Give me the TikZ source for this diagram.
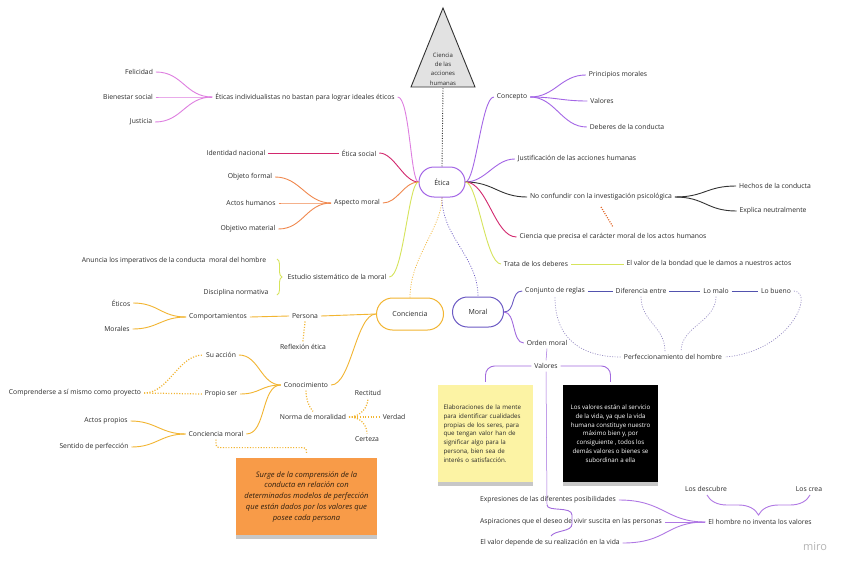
\documentclass[tikz,border=0pt]{standalone}
\usepackage{fontspec}
\setmainfont{Open Sans}
\usetikzlibrary{shadows,calc,decorations.pathreplacing}
\definecolor{txtc}{HTML}{2A2A2A}
\definecolor{pinkc}{HTML}{DE7EE0}
\definecolor{crim}{HTML}{D2286E}
\definecolor{orng}{HTML}{F0884E}
\definecolor{ygrn}{HTML}{D6E45C}
\definecolor{purp}{HTML}{A466E6}
\definecolor{dgray}{HTML}{333333}
\definecolor{concc}{HTML}{F2B531}
\definecolor{moralc}{HTML}{6C5AC4}
\definecolor{indig}{HTML}{5252AE}
\definecolor{vio}{HTML}{A26BDE}
\definecolor{botv}{HTML}{B078E4}
\definecolor{perfc}{HTML}{9A90C6}
\definecolor{ystk}{HTML}{FCF3A4}
\definecolor{ostk}{HTML}{F89B48}
\definecolor{tricol}{HTML}{E2E2E2}
\definecolor{dotred}{HTML}{E0601E}
\definecolor{mirocol}{HTML}{B4B4B4}
\begin{document}
\begin{tikzpicture}[x=1pt,y=-1pt,
  tx/.style={font=\fontsize{6.8}{8}\selectfont,text=txtc,inner sep=1pt,outer sep=2pt},
  ln/.style={line width=0.9pt},
  dl/.style={line width=1.2pt,dash pattern=on 1.1pt off 1.6pt},
  fl/.style={line width=0.7pt,dash pattern=on 1pt off 1.5pt},
  pill/.style={draw,line width=1pt,fill=white,font=\fontsize{7}{8}\selectfont,text=txtc},
  stk/.style={minimum width=95pt,minimum height=97pt,inner sep=0pt,
    drop shadow={shadow xshift=0pt,shadow yshift=-4pt,opacity=0.22,fill=black}}]
\useasboundingbox (0,0) rectangle (848,570);
\fill[white] (0,0) rectangle (848,570);

% ---------- triangle ----------
\filldraw[fill=tricol,draw=dgray,line width=0.9pt] (443,8) -- (475,87) -- (411,87) -- cycle;
\node[font=\fontsize{6}{9.4}\selectfont,align=center,text=txtc] (tri) at (443,69) {Ciencia\\de las\\acciones\\humanas};
\coordinate (tribase) at (443,88);

% ---------- main pills ----------
\node[pill,draw=purp,minimum width=46pt,minimum height=30pt,rounded corners=15pt] (etica) at (442,182) {Ética};
\node[pill,draw=concc,minimum width=67pt,minimum height=32pt,rounded corners=16pt] (conc) at (410,314) {Conciencia};
\node[pill,draw=moralc,minimum width=51pt,minimum height=30pt,rounded corners=15pt] (moral) at (478,312) {Moral};

\draw[dgray,line width=0.9pt,dash pattern=on 1pt off 1.5pt] (tribase) -- (etica.north);
\draw[concc,fl] (etica.south) .. controls +(0,30) and +(0,-40) .. (conc.north);
\draw[moralc,fl] (etica.south) .. controls +(0,40) and +(0,-40) .. (moral.north);

% ---------- left of Etica ----------
\node[tx] (eticind) at (305,97) {Éticas individualistas no bastan para lograr ideales éticos};
\node[tx] (fel) at (139,72) {Felicidad};
\node[tx] (bien) at (128,97) {Bienestar social};
\node[tx] (just) at (141,122) {Justicia};
\foreach \n in {fel,bien,just}
  \draw[pinkc,ln] (\n.east) .. controls +(27,0) and +(-27,0) .. (eticind.west);
\draw[pinkc,ln] (eticind.east) .. controls +(12,0) and +(-8,0) .. (etica.west);

\node[tx] (esoc) at (359,153) {Ética social};
\node[tx] (idn) at (236,153) {Identidad nacional};
\draw[crim,ln] (idn.east) -- (esoc.west);
\draw[crim,ln] (esoc.east) .. controls +(15,0) and +(-15,0) .. (etica.west);

\node[tx] (asp) at (357,203) {Aspecto moral};
\node[tx] (obf) at (250,177) {Objeto formal};
\node[tx] (ach) at (251,203) {Actos humanos};
\node[tx] (obm) at (248,229) {Objetivo material};
\foreach \n in {obf,ach,obm}
  \draw[orng,ln] (\n.east) .. controls +(25,0) and +(-25,0) .. (asp.west);
\draw[orng,ln] (asp.east) .. controls +(15,0) and +(-15,0) .. (etica.west);

\node[tx] (est) at (337,277) {Estudio sistemático de la moral};
\node[tx] (anun) at (174,261) {Anuncia los imperativos de la conducta \ moral del hombre};
\node[tx] (disc) at (236,293) {Disciplina normativa};
\coordinate (bra) at (277,259);
\coordinate (brb) at (277,295);
\draw[ygrn,ln,decorate,decoration={brace,amplitude=5pt}] (bra) -- (brb);
\draw[ygrn,ln] (est.east) .. controls +(14,0) and +(-10,0) .. (etica.west);

% ---------- right of Etica ----------
\node[tx] (concep) at (512,97) {Concepto};
\node[tx] (princ) at (618,75) {Principios morales};
\node[tx] (valr) at (602,101) {Valores};
\node[tx] (deb) at (627,127) {Deberes de la conducta};
\draw[purp,ln] (etica.east) .. controls +(10,0) and +(-12,0) .. (concep.west);
\foreach \n in {princ,valr,deb}
  \draw[purp,ln] (concep.east) .. controls +(25,0) and +(-25,0) .. (\n.west);

\node[tx] (justif) at (577,159) {Justificación de las acciones humanas};
\draw[purp,ln] (etica.east) .. controls +(20,0) and +(-20,0) .. (justif.west);

\node[tx] (noconf) at (601,197) {No confundir con la investigación psicológica};
\node[tx] (hech) at (775,186) {Hechos de la conducta};
\node[tx] (expl) at (773,211) {Explica neutralmente};
\draw[dgray,ln] (etica.east) .. controls +(28,0) and +(-28,0) .. (noconf.west);
\draw[dgray,ln] (noconf.east) .. controls +(30,0) and +(-30,0) .. (hech.west);
\draw[dgray,ln] (noconf.east) .. controls +(30,0) and +(-30,0) .. (expl.west);
\coordinate (ora) at (601,207);
\coordinate (orb) at (613,227);
\draw[dotred,line width=1.2pt,dash pattern=on 1pt off 1.4pt] (ora) -- (orb);

\node[tx] (ciencia) at (613,237) {Ciencia que precisa el carácter moral de los actos humanos};
\draw[crim,ln] (etica.east) .. controls +(22,0) and +(-22,0) .. (ciencia.west);

\node[tx] (trata) at (536,264) {Trata de los deberes};
\node[tx] (valbond) at (709,264) {El valor de la bondad que le damos a nuestros actos};
\draw[ygrn,ln] (etica.east) .. controls +(12,0) and +(-15,0) .. (trata.west);
\draw[ygrn,ln] (trata.east) -- (valbond.west);

% ---------- Conciencia ----------
\node[tx] (persona) at (305,316) {Persona};
\node[tx] (comp) at (218,317) {Comportamientos};
\node[tx] (eticos) at (121,303) {Éticos};
\node[tx] (morales) at (117,329) {Morales};
\node[tx] (refl) at (303,347) {Reflexión ética};
\draw[concc,ln] (conc.west) -- (persona.east);
\draw[concc,ln] (persona.west) -- (comp.east);
\foreach \n in {eticos,morales}
  \draw[concc,ln] (comp.west) .. controls +(-25,0) and +(25,0) .. (\n.east);
\draw[concc,dl] (persona.south) -- (refl.north);

\node[tx] (conoc) at (306,385) {Conocimiento};
\draw[concc,ln] (conc.west) .. controls +(-20,0) and +(20,0) .. (conoc.east);
\node[tx] (suacc) at (221,355) {Su acción};
\node[tx] (propio) at (221,394) {Propio ser};
\node[tx] (concm) at (216,434) {Conciencia moral};
\foreach \n in {suacc,propio,concm}
  \draw[concc,ln] (conoc.west) .. controls +(-20,0) and +(20,0) .. (\n.east);
\node[tx] (compr) at (75,393) {Comprenderse a sí mismo como proyecto};
\draw[concc,dl] (compr.east) -- (propio.west);
\draw[concc,dl] (compr.east) .. controls +(25,0) and +(-25,0) .. (suacc.west);
\node[tx] (actp) at (106,421) {Actos propios};
\node[tx] (sent) at (94,447) {Sentido de perfección};
\foreach \n in {actp,sent}
  \draw[concc,ln] (concm.west) .. controls +(-25,0) and +(25,0) .. (\n.east);

\node[tx] (norma) at (313,417) {Norma de moralidad};
\node[tx] (rect) at (368,393) {Rectitud};
\node[tx] (verd) at (394,417) {Verdad};
\node[tx] (cert) at (367,439) {Certeza};
\draw[concc,dl] (conoc.south) .. controls +(0,8) and +(-5,-6) .. (norma.north);
\draw[concc,dl] (norma.east) -- (verd.west);
\draw[concc,dl] (norma.east) .. controls +(12,0) and +(0,8) .. (rect.south);
\draw[concc,dl] (norma.east) .. controls +(12,0) and +(0,-8) .. (cert.north);

\node[stk,fill=ostk,align=center,font=\fontsize{7.6}{10.75}\itshape\selectfont,text={black!75!brown},minimum width=141pt,minimum height=77pt] (osticky) at (306.5,496.5)
  {Surge de la comprensión de la\\conducta en relación con\\determinados modelos de perfección\\que están dados por los valores que\\posee cada persona};
\draw[concc,dl,rounded corners=3pt] (concm.south) -- ++(0,8) -| ($(osticky.north)+(0,-4)$);

% ---------- Moral ----------
\node[tx] (conj) at (555,291) {Conjunto de reglas};
\node[tx] (dif) at (641,291) {Diferencia entre};
\node[tx] (malo) at (716,291) {Lo malo};
\node[tx] (bueno) at (776,291) {Lo bueno};
\node[tx] (perf) at (673,357) {Perfeccionamiento del hombre};
\node[tx] (orden) at (547,343) {Orden moral};
\draw[moralc,ln] (moral.east) .. controls +(12,0) and +(-12,0) .. (conj.west);
\draw[vio,ln] (moral.east) .. controls +(12,0) and +(-12,0) .. (orden.west);
\draw[indig,ln] (conj.east) -- (dif.west);
\draw[indig,ln] (dif.east) -- (malo.west);
\draw[indig,ln] (malo.east) -- (bueno.west);
\draw[perfc,fl] (conj.south) .. controls +(0,45) and +(-35,0) .. (perf.west);
\draw[perfc,fl] (dif.south) .. controls +(0,25) and +(0,-25) .. ($(perf.north)+(-8,0)$);
\draw[perfc,fl] (malo.south) .. controls +(0,25) and +(0,-25) .. ($(perf.north)+(8,0)$);
\draw[perfc,fl] (bueno.east) .. controls (815,292) and (790,352) .. (perf.east);

\node[tx] (valores) at (546,366) {Valores};
\draw[vio,line width=0.5pt] (orden.south) -- (valores.north);

\node[stk,fill=ystk,align=left,text width=84pt,font=\fontsize{6.2}{8.8}\selectfont,text=txtc] (ysticky) at (485.5,433.5)
  {Elaboraciones de la mente\\para identificar cualidades\\propias de los seres, para\\que tengan valor han de\\significar algo para la\\persona, bien sea de\\interés o satisfacción.};
\node[stk,fill=black,align=center,font=\fontsize{6.2}{8.8}\selectfont,text=white] (bsticky) at (610.5,433.5)
  {Los valores están al servicio\\de la vida, ya que la vida\\humana constituye nuestro\\máximo bien y, por\\consiguiente , todos los\\demás valores o bienes se\\subordinan a ella};
\draw[vio,ln,rounded corners=9pt] (valores.west) -| ($(ysticky.north)+(0,-3)$);
\draw[vio,ln,rounded corners=9pt] (valores.east) -| ($(bsticky.north)+(0,-3)$);

% ---------- bottom ----------
\node[tx] (expr) at (548,500) {Expresiones de las diferentes posibilidades};
\node[tx] (aspir) at (571,522) {Aspiraciones que el deseo de vivir suscita en las personas};
\node[tx] (elval) at (550,543) {El valor depende de su realización en la vida};
\node[tx] (hombre) at (760,522) {El hombre no inventa los valores};
\node[tx] (desc) at (706,489) {Los descubre};
\node[tx] (crea) at (809,489) {Los crea};
\coordinate (vbr) at (547,505);
\draw[vio,line width=0.5pt] (valores.south) -- (vbr);
\draw[vio,ln] (vbr) .. controls (547,512) and (572,506) .. (572,515) -- (572,524) .. controls (572,532) and (555,530) .. (551,536);
\draw[botv,ln] (expr.east) .. controls +(45,0) and +(-40,0) .. (hombre.west);
\draw[botv,ln] (aspir.east) -- (hombre.west);
\draw[botv,ln] (elval.east) .. controls +(45,0) and +(-40,0) .. (hombre.west);
\coordinate (hba) at (810,495);
\coordinate (hbb) at (707,495);
\draw[botv,ln,decorate,decoration={brace,amplitude=20pt,aspect=0.5}] (hba) -- (hbb);

\node[font=\fontsize{11}{12}\selectfont,text=mirocol] (miro) at (815,547) {miro};
\end{tikzpicture}
\end{document}
